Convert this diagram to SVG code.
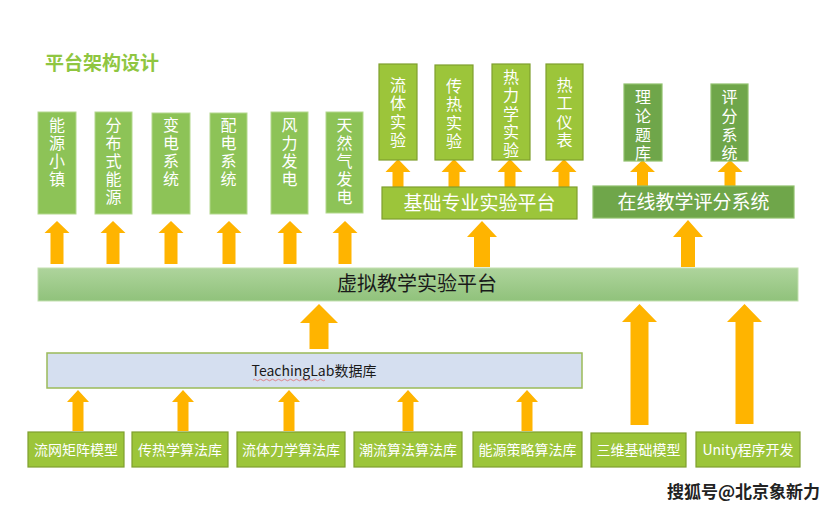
<svg xmlns="http://www.w3.org/2000/svg" width="830" height="509" viewBox="0 0 830 509">
<defs>
<linearGradient id="barGrad" x1="0" y1="0" x2="0" y2="1">
<stop offset="0" stop-color="#aed49c"/>
<stop offset="1" stop-color="#90c27b"/>
</linearGradient>
<style>
text{font-family:"Microsoft YaHei","Noto Sans CJK SC","Liberation Sans",sans-serif;}
.mg{fill:#8dc357;stroke:#b3d88e;stroke-width:1;}
.yg{fill:#9cc53a;stroke:#7f9f2d;stroke-width:1.2;}
.dg{fill:#6fa64a;stroke:#8fc06c;stroke-width:1.2;}
.vt{fill:#ffffff;font-size:16px;writing-mode:vertical-rl;letter-spacing:2px;}
.vt2{fill:#ffffff;font-size:16px;writing-mode:vertical-rl;letter-spacing:2.3px;}
.vt3{fill:#ffffff;font-size:16px;writing-mode:vertical-rl;letter-spacing:2.8px;}
.ht{fill:#ffffff;font-size:19px;text-anchor:middle;}
.bt{fill:#ffffff;font-size:14px;text-anchor:middle;}
.arr{fill:#ffb400;}
</style>
</defs>
<rect width="830" height="509" fill="#ffffff"/>
<text x="45" y="70" style="font-size:19px;font-weight:bold;fill:#8fc641;">平台架构设计</text>

<g id="connectors">
<polygon class="arr" points="57,221 69.5,233 63.5,233 63.5,264 50.5,264 50.5,233 44.5,233"/>
<polygon class="arr" points="113,221 125.5,233 119.5,233 119.5,264 106.5,264 106.5,233 100.5,233"/>
<polygon class="arr" points="171,221 183.5,233 177.5,233 177.5,264 164.5,264 164.5,233 158.5,233"/>
<polygon class="arr" points="229,221 241.5,233 235.5,233 235.5,264 222.5,264 222.5,233 216.5,233"/>
<polygon class="arr" points="290,221 302.5,233 296.5,233 296.5,264 283.5,264 283.5,233 277.5,233"/>
<polygon class="arr" points="345,221 357.5,233 351.5,233 351.5,264 338.5,264 338.5,233 332.5,233"/>
<polygon class="arr" points="482,221 497,237 490,237 490,267 474,267 474,237 467,237"/>
<polygon class="arr" points="398,159 410.5,172 403.5,172 403.5,187 392.5,187 392.5,172 385.5,172"/>
<polygon class="arr" points="454,159 466.5,172 459.5,172 459.5,187 448.5,187 448.5,172 441.5,172"/>
<polygon class="arr" points="510,159 522.5,172 515.5,172 515.5,187 504.5,187 504.5,172 497.5,172"/>
<polygon class="arr" points="564,159 576.5,172 569.5,172 569.5,187 558.5,187 558.5,172 551.5,172"/>
<polygon class="arr" points="688,220 703,237 695,237 695,267 681,267 681,237 673,237"/>
<polygon class="arr" points="642.5,160 655,172 648,172 648,186 637,186 637,172 630,172"/>
<polygon class="arr" points="730,160 742.5,172 735.5,172 735.5,186 724.5,186 724.5,172 717.5,172"/>
<polygon class="arr" points="319,304 338,323 328.5,323 328.5,349 309.5,349 309.5,323 300,323"/>
<polygon class="arr" points="78,390 89,402 83.5,402 83.5,431 72.5,431 72.5,402 67,402"/>
<polygon class="arr" points="183,390 194,402 188.5,402 188.5,431 177.5,431 177.5,402 172,402"/>
<polygon class="arr" points="289,390 300,402 294.5,402 294.5,431 283.5,431 283.5,402 278,402"/>
<polygon class="arr" points="408,390 419,402 413.5,402 413.5,431 402.5,431 402.5,402 397,402"/>
<polygon class="arr" points="527,390 538,402 532.5,402 532.5,431 521.5,431 521.5,402 516,402"/>
<polygon class="arr" points="639.5,304 657,322 648.5,322 648.5,425 630.5,425 630.5,322 622,322"/>
<polygon class="arr" points="744.5,304 762,322 753.5,322 753.5,424 735.5,424 735.5,322 727,322"/>
</g>

<g id="n-nengyuan">
<rect class="mg" x="38" y="112" width="38" height="102"/>
<text class="vt" x="57" y="117">能源小镇</text>
</g>
<g id="n-fenbushi">
<rect class="mg" x="95" y="112" width="37" height="102"/>
<text class="vt" x="113.5" y="117">分布式能源</text>
</g>
<g id="n-biandian">
<rect class="mg" x="152" y="113" width="38" height="101"/>
<text class="vt" x="171" y="117">变电系统</text>
</g>
<g id="n-peidian">
<rect class="mg" x="210" y="113" width="37" height="101"/>
<text class="vt" x="228.5" y="117">配电系统</text>
</g>
<g id="n-fengli">
<rect class="mg" x="271" y="112" width="37" height="102"/>
<text class="vt" x="289.5" y="117">风力发电</text>
</g>
<g id="n-tianranqi">
<rect class="mg" x="326" y="112" width="37" height="101"/>
<text class="vt" x="344.5" y="117">天然气发电</text>
</g>

<g id="n-liuti">
<rect class="yg" x="379" y="64" width="38" height="96"/>
<text class="vt2" x="398" y="77">流体实验</text>
</g>
<g id="n-chuanre">
<rect class="yg" x="435" y="65" width="38" height="95"/>
<text class="vt2" x="454" y="78">传热实验</text>
</g>
<g id="n-relixue">
<rect class="yg" x="492" y="64" width="38" height="96"/>
<text class="vt2" x="511" y="69">热力学实验</text>
</g>
<g id="n-regong">
<rect class="yg" x="546" y="64" width="37" height="96"/>
<text class="vt2" x="564.5" y="77">热工仪表</text>
</g>
<g id="n-jichu">
<rect class="yg" x="382" y="187" width="195" height="32"/>
<text class="ht" x="479.5" y="210">基础专业实验平台</text>
</g>

<g id="n-tiku">
<rect class="dg" x="624" y="84" width="38" height="77"/>
<text class="vt3" x="643" y="89">理论题库</text>
</g>
<g id="n-pingfen">
<rect class="dg" x="711" y="84" width="37" height="77"/>
<text class="vt3" x="729.5" y="89">评分系统</text>
</g>
<g id="n-zaixian">
<rect class="dg" x="593" y="186" width="201" height="32"/>
<text class="ht" x="693.5" y="209">在线教学评分系统</text>
</g>

<g id="n-xuni">
<rect x="38" y="268" width="760" height="33" fill="url(#barGrad)" stroke="#c3e0b0" stroke-width="1"/>
<text x="417" y="291" style="font-size:20px;fill:#1a1a1a;text-anchor:middle;">虚拟教学实验平台</text>
</g>

<g id="n-teachinglab">
<rect x="47" y="353" width="535" height="35" fill="#d5dff0" stroke="#9bbb59" stroke-width="1.5"/>
<text x="314" y="376" style="font-size:14px;fill:#1a1a1a;text-anchor:middle;">TeachingLab数据库</text>
<path d="M253,380 q1.5,-1.5 3,0 t3,0 t3,0 t3,0 t3,0 t3,0 t3,0 t3,0 t3,0 t3,0 t3,0 t3,0 t3,0 t3,0 t3,0 t3,0 t3,0 t3,0 t3,0 t3,0 t3,0 t3,0 t3,0 t3,0" fill="none" stroke="#e06060" stroke-width="0.7"/>
</g>

<g id="n-liuwang">
<rect class="yg" x="28" y="432" width="96" height="35"/>
<text class="bt" x="76" y="454.5">流网矩阵模型</text>
</g>
<g id="n-chuanrexue">
<rect class="yg" x="132" y="432" width="96" height="35"/>
<text class="bt" x="180" y="454.5">传热学算法库</text>
</g>
<g id="n-liutilixue">
<rect class="yg" x="237" y="432" width="108" height="35"/>
<text class="bt" x="291" y="454.5">流体力学算法库</text>
</g>
<g id="n-chaoliu">
<rect class="yg" x="354" y="432" width="108" height="35"/>
<text class="bt" x="408" y="454.5">潮流算法算法库</text>
</g>
<g id="n-nengyuancelue">
<rect class="yg" x="473" y="432" width="109" height="35"/>
<text class="bt" x="527.5" y="454.5">能源策略算法库</text>
</g>
<g id="n-sanwei">
<rect class="yg" x="591" y="433" width="95" height="34"/>
<text class="bt" x="638.5" y="455">三维基础模型</text>
</g>
<g id="n-unity">
<rect class="yg" x="696" y="432" width="104" height="35"/>
<text class="bt" x="748" y="455">Unity程序开发</text>
</g>

<text x="667" y="498" style="font-size:17px;font-weight:bold;fill:#222222;stroke:#ffffff;stroke-width:2;paint-order:stroke;">搜狐号@北京象新力</text>
</svg>
